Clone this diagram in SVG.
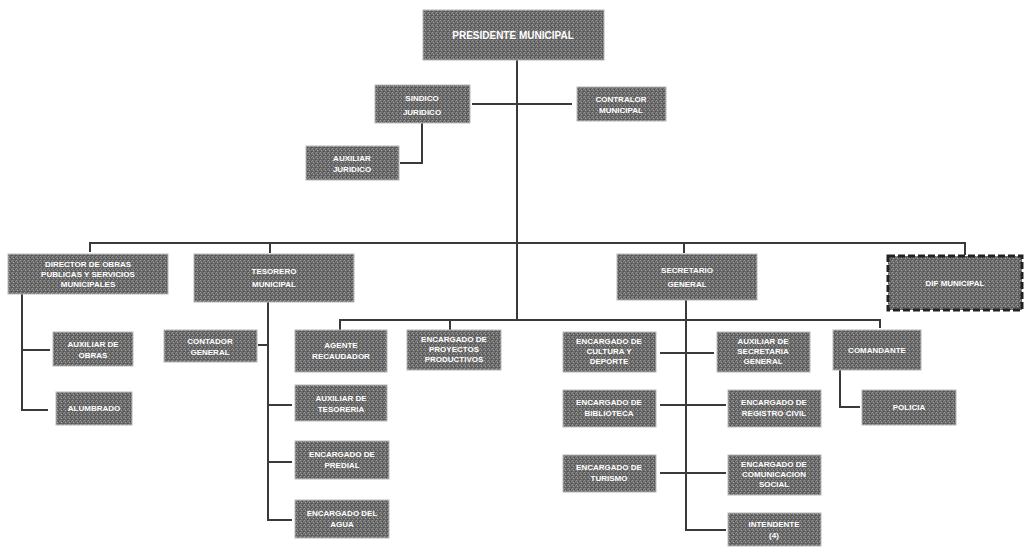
<svg xmlns="http://www.w3.org/2000/svg" width="1026" height="548" viewBox="0 0 1026 548">
<defs>
<pattern id="grain" width="4" height="4" patternUnits="userSpaceOnUse">
<rect width="4" height="4" fill="#6c6c6c"/>
<rect x="0" y="0" width="1" height="1" fill="#9a9a9a"/>
<rect x="2" y="1" width="1" height="1" fill="#4a4a4a"/>
<rect x="1" y="2" width="1" height="1" fill="#a5a5a5"/>
<rect x="3" y="3" width="1" height="1" fill="#505050"/>
<rect x="3" y="1" width="1" height="1" fill="#8a8a8a"/>
<rect x="0" y="3" width="1" height="1" fill="#595959"/>
</pattern>
</defs>
<style>
.box{fill:url(#grain);stroke:#b8b8b8;stroke-width:1}
.dif{fill:url(#grain);stroke:#222;stroke-width:3;stroke-dasharray:7 3}
.t{font-family:"Liberation Sans",Arial,sans-serif;font-weight:bold;font-size:8px;fill:#fff;text-anchor:middle}
.tb{font-size:10px}
.ln{fill:none;stroke:#3a3a3a;stroke-width:2}
</style>
<rect width="1026" height="548" fill="#fff"/>
<g id="connectors">
<path class="ln" d="M517 60V320"/>
<path class="ln" d="M472 104H572"/>
<path class="ln" d="M422 123V163H400"/>
<path class="ln" d="M90 252V243H965V255"/>
<path class="ln" d="M270 243V253"/>
<path class="ln" d="M684 243V253"/>
<path class="ln" d="M22 293V410H48M22 350H50"/>
<path class="ln" d="M268 302V520H292M268 405H292M268 462H292M268 345H258"/>
<path class="ln" d="M340 330V320H880V328M450 320V330"/>
<path class="ln" d="M686 300V530H726M660 353H714M660 405H726M660 473H726"/>
<path class="ln" d="M840 370V407H860"/>
</g>
<g id="presidente"><rect class="box" x="423" y="10" width="181" height="50"/><text class="t tb" x="513" y="39">PRESIDENTE MUNICIPAL</text></g>
<g id="sindico"><rect class="box" x="375" y="85" width="95" height="38"/><text class="t" x="422" y="101">SINDICO</text><text class="t" x="422" y="115">JURIDICO</text></g>
<g id="contralor"><rect class="box" x="577" y="87" width="89" height="34"/><text class="t" x="621" y="102">CONTRALOR</text><text class="t" x="621" y="113">MUNICIPAL</text></g>
<g id="aux-juridico"><rect class="box" x="306" y="146" width="93" height="34"/><text class="t" x="352" y="161">AUXILIAR</text><text class="t" x="352" y="172">JURIDICO</text></g>
<g id="director"><rect class="box" x="8" y="254" width="160" height="40"/><text class="t" x="88" y="267">DIRECTOR DE OBRAS</text><text class="t" x="88" y="277">PUBLICAS Y SERVICIOS</text><text class="t" x="88" y="287">MUNICIPALES</text></g>
<g id="tesorero"><rect class="box" x="194" y="254" width="160" height="48"/><text class="t" x="274" y="274">TESORERO</text><text class="t" x="274" y="287">MUNICIPAL</text></g>
<g id="secretario"><rect class="box" x="617" y="254" width="140" height="46"/><text class="t" x="687" y="273">SECRETARIO</text><text class="t" x="687" y="287">GENERAL</text></g>
<g id="dif"><rect class="dif" x="888" y="256" width="134" height="54"/><text class="t" x="955" y="286">DIF MUNICIPAL</text></g>
<g id="aux-obras"><rect class="box" x="53" y="332" width="80" height="34"/><text class="t" x="93" y="347">AUXILIAR DE</text><text class="t" x="93" y="358">OBRAS</text></g>
<g id="alumbrado"><rect class="box" x="56" y="392" width="76" height="33"/><text class="t" x="94" y="411">ALUMBRADO</text></g>
<g id="contador"><rect class="box" x="164" y="330" width="93" height="32"/><text class="t" x="210" y="344">CONTADOR</text><text class="t" x="210" y="355">GENERAL</text></g>
<g id="agente"><rect class="box" x="295" y="330" width="92" height="42"/><text class="t" x="341" y="348">AGENTE</text><text class="t" x="341" y="359">RECAUDADOR</text></g>
<g id="aux-tesoreria"><rect class="box" x="295" y="385" width="92" height="36"/><text class="t" x="341" y="401">AUXILIAR DE</text><text class="t" x="341" y="412">TESORERIA</text></g>
<g id="predial"><rect class="box" x="295" y="441" width="94" height="38"/><text class="t" x="342" y="457">ENCARGADO DE</text><text class="t" x="342" y="468">PREDIAL</text></g>
<g id="agua"><rect class="box" x="295" y="500" width="94" height="38"/><text class="t" x="342" y="516">ENCARGADO DEL</text><text class="t" x="342" y="527">AGUA</text></g>
<g id="proyectos"><rect class="box" x="407" y="330" width="94" height="40"/><text class="t" x="454" y="342">ENCARGADO DE</text><text class="t" x="454" y="352">PROYECTOS</text><text class="t" x="454" y="362">PRODUCTIVOS</text></g>
<g id="cultura"><rect class="box" x="563" y="332" width="93" height="40"/><text class="t" x="609" y="344">ENCARGADO DE</text><text class="t" x="609" y="354">CULTURA Y</text><text class="t" x="609" y="364">DEPORTE</text></g>
<g id="aux-secretaria"><rect class="box" x="717" y="332" width="93" height="40"/><text class="t" x="763" y="344">AUXILIAR DE</text><text class="t" x="763" y="354">SECRETARIA</text><text class="t" x="763" y="364">GENERAL</text></g>
<g id="biblioteca"><rect class="box" x="563" y="390" width="93" height="37"/><text class="t" x="609" y="405">ENCARGADO DE</text><text class="t" x="609" y="416">BIBLIOTECA</text></g>
<g id="registro"><rect class="box" x="728" y="390" width="93" height="37"/><text class="t" x="774" y="405">ENCARGADO DE</text><text class="t" x="774" y="416">REGISTRO CIVIL</text></g>
<g id="turismo"><rect class="box" x="563" y="455" width="93" height="37"/><text class="t" x="609" y="470">ENCARGADO DE</text><text class="t" x="609" y="481">TURISMO</text></g>
<g id="comunicacion"><rect class="box" x="728" y="455" width="93" height="40"/><text class="t" x="774" y="467">ENCARGADO DE</text><text class="t" x="774" y="477">COMUNICACION</text><text class="t" x="774" y="487">SOCIAL</text></g>
<g id="intendente"><rect class="box" x="728" y="513" width="93" height="33"/><text class="t" x="774" y="527">INTENDENTE</text><text class="t" x="774" y="538">(4)</text></g>
<g id="comandante"><rect class="box" x="833" y="330" width="88" height="40"/><text class="t" x="877" y="353">COMANDANTE</text></g>
<g id="policia"><rect class="box" x="862" y="390" width="94" height="35"/><text class="t" x="909" y="410">POLICIA</text></g>
</svg>
